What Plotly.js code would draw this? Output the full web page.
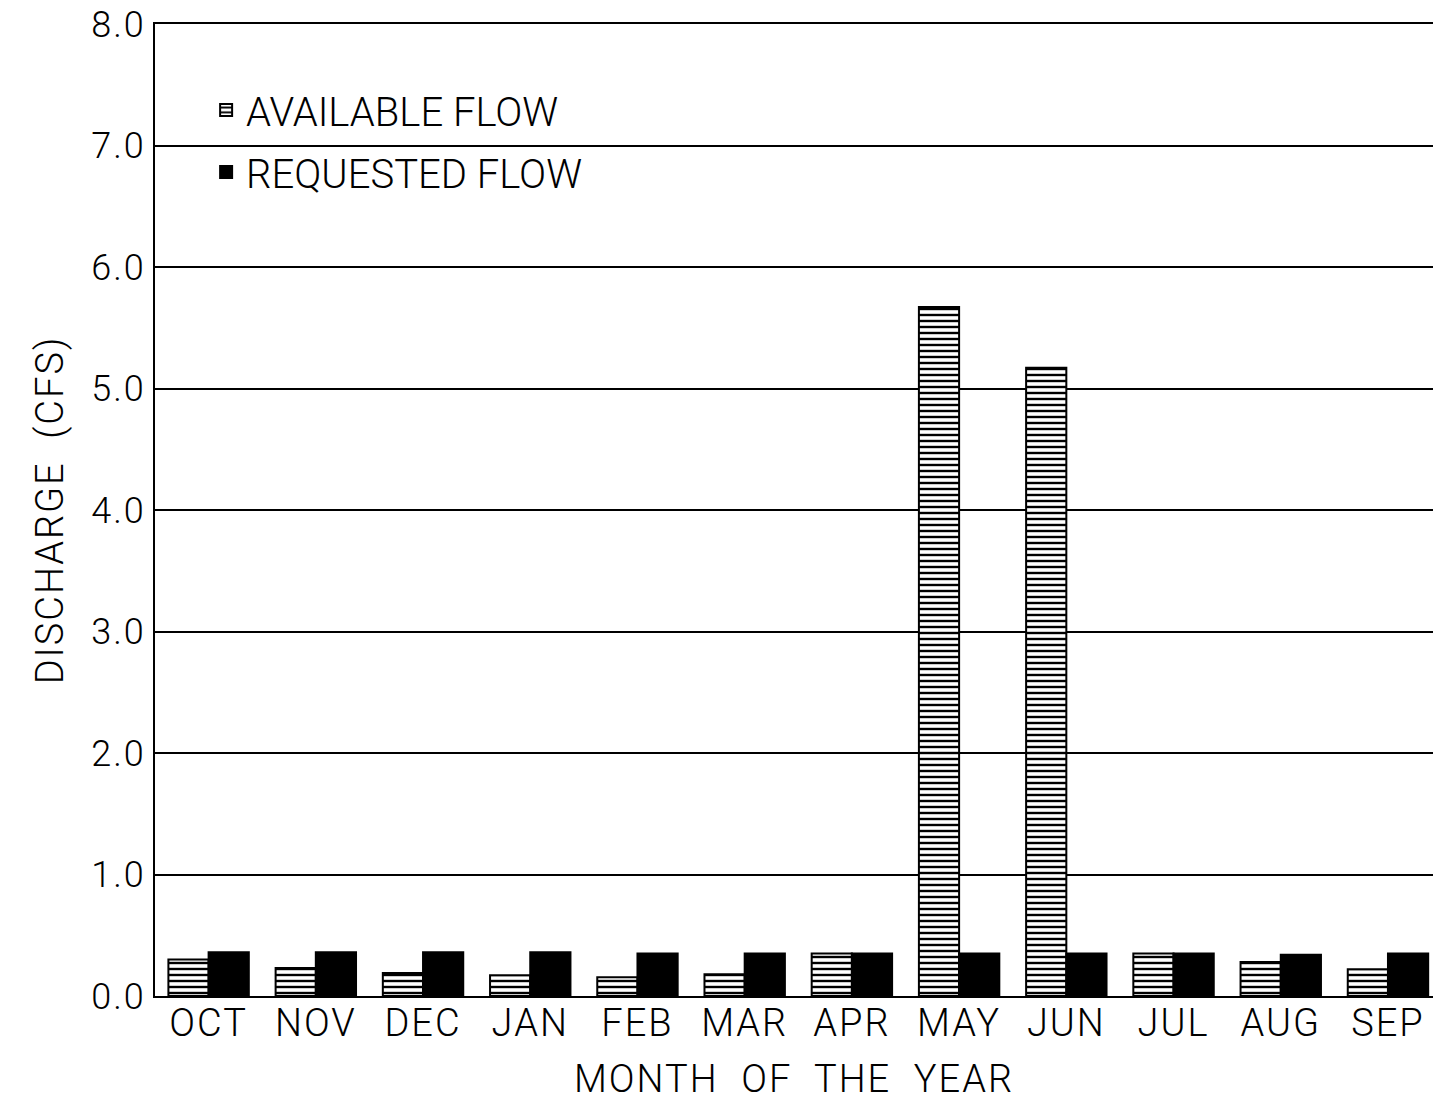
<!DOCTYPE html>
<html>
<head>
<meta charset="utf-8">
<script src="https://cdn.plot.ly/plotly-3.0.1.min.js"></script>
<style>
html,body{margin:0;padding:0;background:#fff;}
#chart{width:1433px;height:1101px;}
#chart .xtick text, #chart .ytick text, #chart .g-xtitle text, #chart .g-ytitle text{letter-spacing:2px;}
</style>
</head>
<body>
<div id="chart"></div>
<script>
const months = ["OCT","NOV","DEC","JAN","FEB","MAR","APR","MAY","JUN","JUL","AUG","SEP"];
const availableFlow = [0.30,0.23,0.19,0.17,0.155,0.18,0.35,5.67,5.17,0.35,0.28,0.22];
const requestedFlow = [0.36,0.36,0.36,0.36,0.35,0.35,0.35,0.35,0.35,0.35,0.34,0.35];
const yTicks = [0,1,2,3,4,5,6,7,8];
const yTickText = ["0.0","1.0","2.0","3.0","4.0","5.0","6.0","7.0","8.0"];

const FONT = "Roboto, 'DejaVu Sans', sans-serif";

const traces = [
  {
    type: "bar",
    name: "AVAILABLE FLOW",
    legendgroup: "a",
    x: months,
    y: availableFlow,
    marker: {
      color: "#ffffff",
      line: {color: "#000000", width: 2},
      pattern: {shape: "-", fgcolor: "#000000", bgcolor: "#ffffff", size: 6, solidity: 0.4}
    }
  },
  {
    type: "bar",
    name: "REQUESTED FLOW",
    legendgroup: "b",
    x: months,
    y: requestedFlow,
    marker: {color: "#000000", line: {color: "#000000", width: 2}}
  }
];

const layout = {
  width: 1433,
  height: 1101,
  paper_bgcolor: "#ffffff",
  plot_bgcolor: "#ffffff",
  margin: {l: 155, r: 0, t: 24, b: 105},
  barmode: "group",
  bargap: 0.25,
  bargroupgap: 0,
  font: {family: FONT, color: "#000000", size: 38, weight: 300},
  showlegend: true,
  legend: {
    x: 0.04, y: 0.945, xanchor: "left", yanchor: "top",
    bgcolor: "rgba(0,0,0,0)",
    font: {family: FONT, size: 40, color: "#000000", weight: 300},
    itemwidth: 30,
    traceorder: "grouped",
    tracegroupgap: 7
  },
  xaxis: {
    type: "category",
    range: [-0.5, 11.42],
    showgrid: false,
    showline: true,
    mirror: true,
    linecolor: "#000000",
    linewidth: 2,
    ticks: "",
    ticklabelstandoff: -8,
    tickfont: {family: FONT, size: 38, weight: 300},
    title: {text: "MONTH  OF  THE  YEAR", font: {family: FONT, size: 38, weight: 300}, standoff: 22}
  },
  yaxis: {
    range: [0, 8],
    tickvals: yTicks,
    ticktext: yTickText,
    showgrid: true,
    gridcolor: "#000000",
    gridwidth: 2,
    zeroline: false,
    showline: true,
    linecolor: "#000000",
    linewidth: 2,
    ticks: "",
    ticklen: 0,
    ticklabeloverflow: "allow",
    tickfont: {family: FONT, size: 36, weight: 300},
    title: {text: "DISCHARGE  (CFS)", font: {family: FONT, size: 38, weight: 300}, standoff: 22}
  }
};

Plotly.newPlot("chart", traces, layout, {displayModeBar: false, staticPlot: true});
</script>
</body>
</html>
